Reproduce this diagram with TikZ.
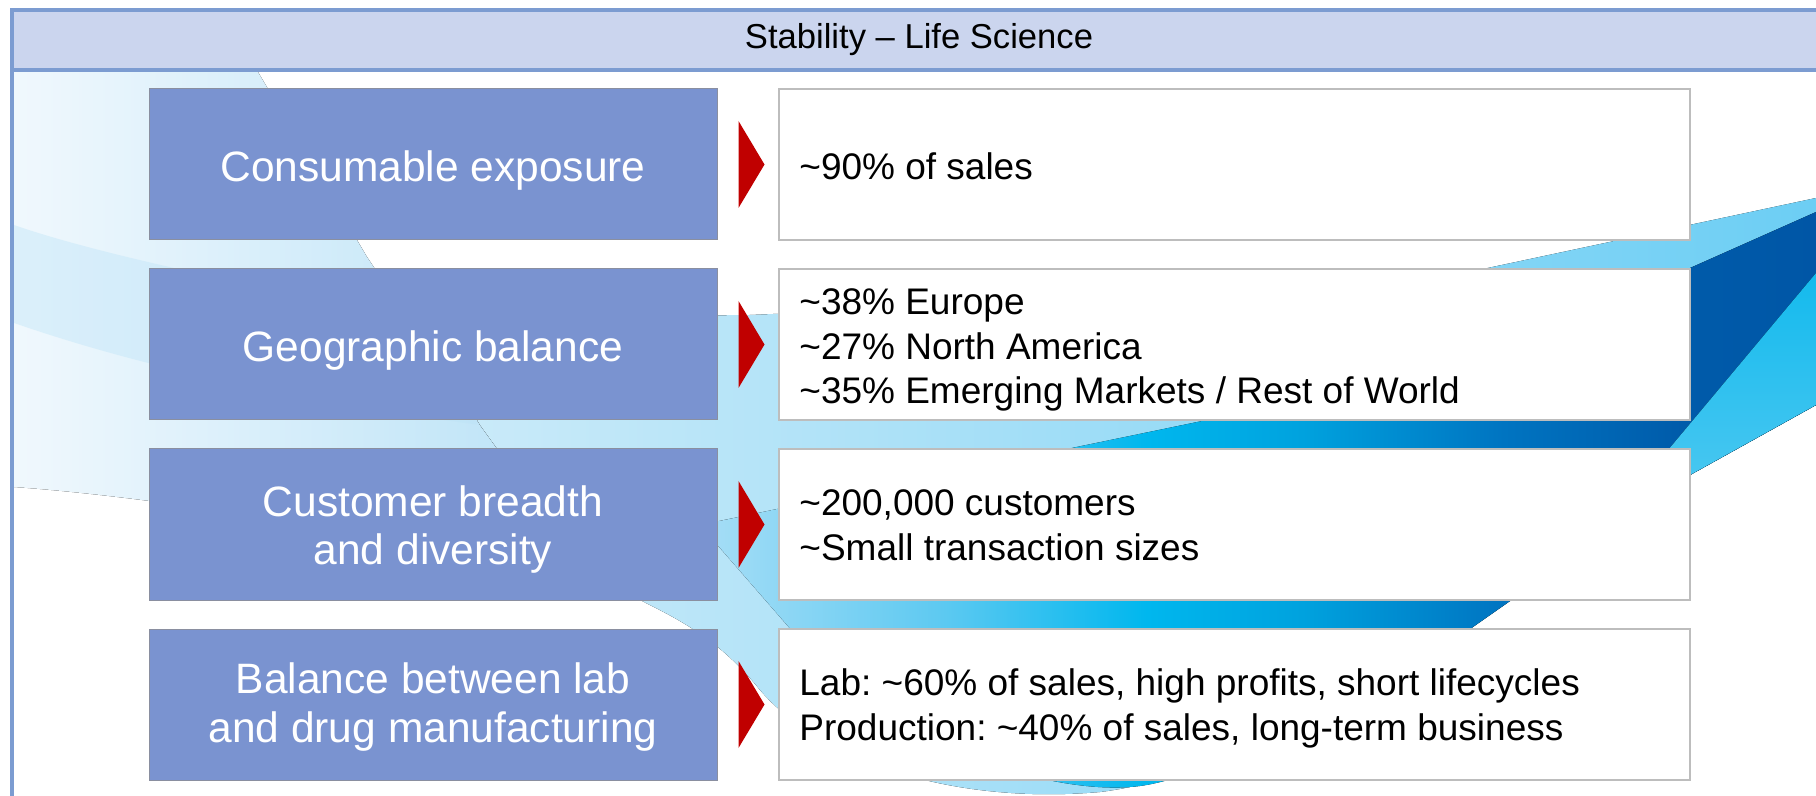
\documentclass[tikz,border=0pt]{standalone}
\usepackage{fontspec}
\setmainfont{Liberation Sans}
\usetikzlibrary{calc}
\frenchspacing
\definecolor{frameblue}{HTML}{7C9CD1}
\definecolor{headfill}{HTML}{CBD5EE}
\definecolor{boxblue}{HTML}{7A93D0}
\definecolor{boxline}{HTML}{8A8FA0}
\definecolor{wline}{HTML}{BDBDBD}
\definecolor{arrowred}{HTML}{C00000}
\definecolor{paleL}{HTML}{F0F8FD}
\definecolor{paleR}{HTML}{BCE3F7}
\definecolor{bandA}{HTML}{BCE3F7}
\definecolor{bL}{HTML}{CDEBF9}
\definecolor{bR}{HTML}{6CCEF4}
\definecolor{cA}{HTML}{A8DEF6}
\definecolor{cB}{HTML}{5CC9F1}
\definecolor{cC}{HTML}{00B7EE}
\definecolor{cD}{HTML}{00A2DE}
\definecolor{cE}{HTML}{0074C1}
\definecolor{cF}{HTML}{005BAA}
\definecolor{cG}{HTML}{0056A6}
\definecolor{cyanT}{HTML}{14BAED}
\definecolor{cyanB}{HTML}{58CBF2}
\pgfdeclarehorizontalshading{btwo}{100bp}{color(0bp)=(cA); color(25bp)=(cA); color(36bp)=(cB); color(45bp)=(cC); color(52bp)=(cD); color(61bp)=(cE); color(69bp)=(cF); color(75bp)=(cG); color(100bp)=(cG)}
\begin{document}
\begin{tikzpicture}[x=0.5pt,y=-0.5pt,
  lbox/.style={draw=boxline, line width=0.5pt, fill=boxblue, minimum width=284pt, minimum height=75.5pt, inner sep=0pt},
  rbox/.style={draw=wline, line width=0.75pt, fill=white, minimum width=455.5pt, minimum height=75.5pt, inner sep=0pt},
  ltext/.style={text=white, font=\fontsize{21.25pt}{24.5pt}\selectfont, align=center, inner sep=0pt, anchor=base},
  rtext/.style={text=black, font=\fontsize{18.5pt}{22.5pt}\selectfont, align=left, inner sep=0pt, anchor=base west},
  pointer/.style={fill=arrowred},
  frameline/.style={draw=frameblue, line width=1.75pt}
]
\useasboundingbox (0,0) rectangle (1816,796);
% background swooshes
\begin{scope}
\clip (14,72) rectangle (1816,796);
\fill[left color=paleL, right color=paleR] (14,72) -- (258,72) -- (367,257) -- (480,425) -- (556,530)
  .. controls (380,545) and (200,500) .. (14,487) -- cycle;
\fill[bandA, opacity=0.4] (14,225) .. controls (100,255) and (250,285) .. (420,320) -- (480,425)
  .. controls (300,400) and (150,370) .. (14,323) -- cycle;
\fill[left color=bL, right color=bR] (420,320) .. controls (550,318) and (650,316) .. (750,315)
  .. controls (1100,300) and (1300,285) .. (1483,269) -- (1816,198) -- (1816,405) -- (1690,475) -- (1470,629)
  .. controls (1300,720) and (1200,780) .. (1100,792) .. controls (950,805) and (820,760) .. (760,690)
  .. controls (720,640) and (680,620) .. (640,600) -- (556,530) -- (480,425) -- cycle;
\fill[shading=btwo] (700,525) -- (1067,449) -- (1207,420) -- (1690,268) -- (1816,212) -- (1816,405) -- (1690,475) -- (1470,629)
  .. controls (1330,700) and (1220,775) .. (1140,786) .. controls (1050,798) and (880,740) .. (800,640) -- cycle;
\fill[top color=cyanT, bottom color=cyanB] (1587,547) -- (1816,273) -- (1816,405) -- (1690,475) -- cycle;
\end{scope}
% header and frame
\draw[frameline] (12,10) rectangle (1830,812);
\draw[frameline, fill=headfill] (12,10) rectangle (1830,70);
\node[anchor=base, inner sep=0pt, font=\fontsize{17.3pt}{20pt}\selectfont] (title) at (919,49) {Stability – Life Science};
% rows
\foreach \i/\y in {1/164.5, 2/344.5, 3/524.5, 4/704.5}{
  \node[lbox] (L\i) at (433,\y) {};
  \node[rbox] (R\i) at (1234.5,\y) {};
  \fill[pointer] ($(L\i.east)+(21,-43.5)$) -- ($(L\i.east)+(47,0)$) -- ($(L\i.east)+(21,43.5)$) -- cycle;
}
% multi-line nodes are anchored at the baseline of their last line
\node[ltext] (lt1) at (433,181.7) {Consumable exposure};
\node[ltext] (lt2) at (433,361.7) {Geographic balance};
\node[ltext] (lt3) at (433,565) {Customer breadth\\and diversity};
\node[ltext] (lt4) at (433,742) {Balance between lab\\and drug manufacturing};
\node[rtext] (rt1) at (799,179.3) {\textasciitilde90\% of sales};
\node[rtext, font=\fontsize{18.5pt}{22.25pt}\selectfont] (rt2) at (799,404) {\textasciitilde38\% Europe\\\textasciitilde27\% North America\\\textasciitilde35\% Emerging Markets / Rest of World};
\node[rtext] (rt3) at (799,560) {\textasciitilde200,000 customers\\\textasciitilde Small transaction sizes};
\node[rtext] (rt4) at (799,740) {Lab: \textasciitilde60\% of sales, high profits, short lifecycles\\Production: \textasciitilde40\% of sales, long-term business};
\end{tikzpicture}
\end{document}
